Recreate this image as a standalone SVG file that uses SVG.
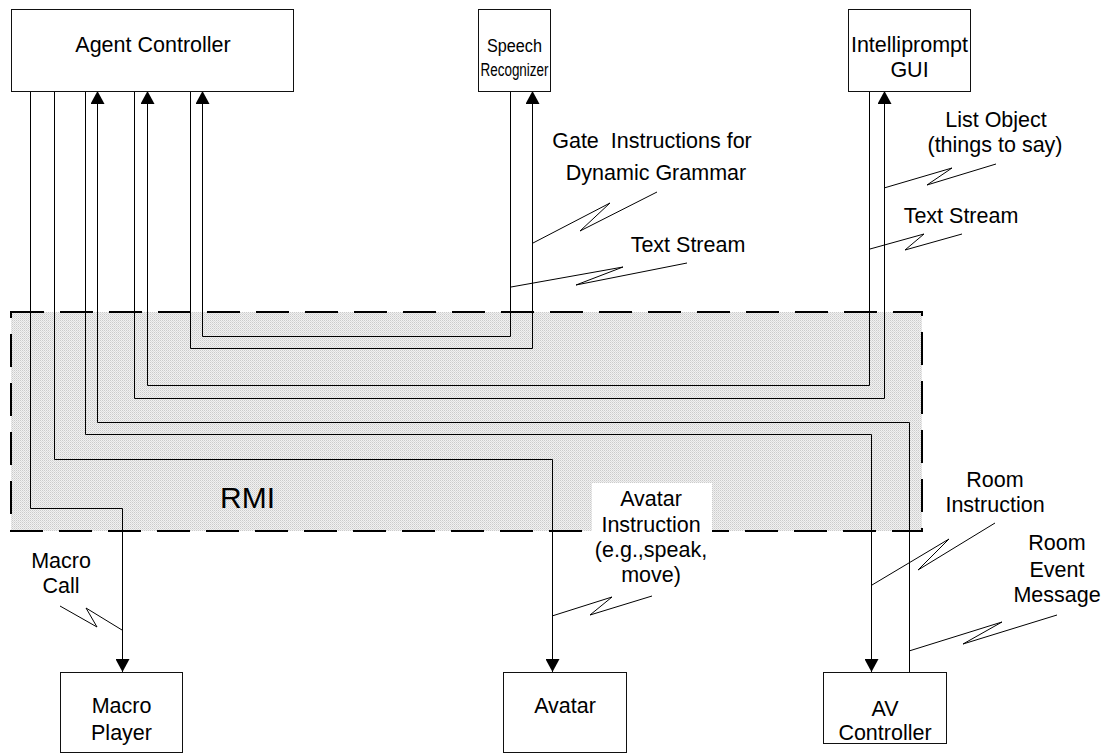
<svg xmlns="http://www.w3.org/2000/svg" width="1106" height="754" viewBox="0 0 1106 754">
<style>
.box{fill:#fff;stroke:#111;stroke-width:1}
.t{font-family:"Liberation Sans",Arial,sans-serif;font-size:21.5px;fill:#000;text-anchor:middle}
.c{fill:none;stroke:#000;stroke-width:1}
.sq{fill:none;stroke:#000;stroke-width:1;stroke-linejoin:round}
</style>
<defs>
<pattern id="dots" width="2" height="2" patternUnits="userSpaceOnUse">
<rect width="2" height="2" fill="#f1f1f1"/>
<rect width="1" height="1" fill="#cbcbcb"/>
<rect x="1" y="1" width="1" height="1" fill="#dcdcdc"/>
</pattern>
<marker id="ah" markerUnits="userSpaceOnUse" markerWidth="14" markerHeight="14" refX="13" refY="7" orient="auto">
<path d="M0,0 L13,7 L0,14 z" fill="#000"/>
</marker>
</defs>
<rect width="1106" height="754" fill="#fff"/>
<g id="rmi">
<rect x="11" y="312" width="911" height="219" fill="url(#dots)" stroke="#000" stroke-width="2" stroke-dasharray="33 16"/>
</g>
<g id="connectors">
<path class="c" d="M30.5,91 V508.5 H122.5 V672" marker-end="url(#ah)"/>
<path class="c" d="M54.5,91 V459.5 H552.5 V672" marker-end="url(#ah)"/>
<path class="c" d="M85.5,91 V434.5 H871.5 V672" marker-end="url(#ah)"/>
<path class="c" d="M909.5,672 V422.5 H97.5 V91" marker-end="url(#ah)"/>
<path class="c" d="M134.5,91 V398.5 H884.5 V91" marker-end="url(#ah)"/>
<path class="c" d="M869.5,91 V385.5 H147.5 V91" marker-end="url(#ah)"/>
<path class="c" d="M190.5,91 V348.5 H532.5 V91" marker-end="url(#ah)"/>
<path class="c" d="M510.5,91 V336.5 H202.5 V91" marker-end="url(#ah)"/>
<path class="sq" d="M533,243 L610,203 L580,231 L657,192"/>
<path class="sq" d="M511,287 L623,267 L576,285 L687,263"/>
<path class="sq" d="M884,188 L952,168 L927,185 L996,164"/>
<path class="sq" d="M870,249 L924,234 L905,250 L962,234"/>
<path class="sq" d="M872,585 L949,539 L918,570 L995,523"/>
<path class="sq" d="M909,651 L1002,622 L963,644 L1057,615"/>
<path class="sq" d="M552,616 L612,597 L590,615 L652,596"/>
<path class="sq" d="M122,630 L86,608 L97,627 L60,606"/>
</g>
<g id="agent-controller">
<rect class="box" x="11.5" y="9.5" width="282" height="82"/>
<text class="t" x="153" y="52">Agent Controller</text>
</g>
<g id="speech-recognizer">
<rect class="box" x="478.5" y="9.5" width="72" height="82"/>
<text class="t" x="514.5" y="52" style="font-size:18px" textLength="55" lengthAdjust="spacingAndGlyphs">Speech</text>
<text class="t" x="514.5" y="76" style="font-size:18px" textLength="68" lengthAdjust="spacingAndGlyphs">Recognizer</text>
</g>
<g id="intelliprompt-gui">
<rect class="box" x="848.5" y="9.5" width="122" height="82"/>
<text class="t" x="909.5" y="52">Intelliprompt</text>
<text class="t" x="909.5" y="77">GUI</text>
</g>
<g id="macro-player">
<rect class="box" x="60.5" y="672.5" width="122" height="80"/>
<text class="t" x="121.5" y="713">Macro</text>
<text class="t" x="121.5" y="740">Player</text>
</g>
<g id="avatar">
<rect class="box" x="503.5" y="672.5" width="123" height="80"/>
<text class="t" x="565" y="713">Avatar</text>
</g>
<g id="av-controller">
<rect class="box" x="823.5" y="672.5" width="123" height="71"/>
<text class="t" x="885" y="716">AV</text>
<text class="t" x="885" y="740">Controller</text>
</g>
<g id="labels">
<text class="t" x="220" y="508" style="text-anchor:start;font-size:30px">RMI</text>
<text class="t" x="652" y="148" style="white-space:pre">Gate  Instructions for</text>
<text class="t" x="656" y="180">Dynamic Grammar</text>
<text class="t" x="688" y="252">Text Stream</text>
<text class="t" x="996" y="127">List Object</text>
<text class="t" x="995" y="152">(things to say)</text>
<text class="t" x="961" y="223">Text Stream</text>
<text class="t" x="995" y="487">Room</text>
<text class="t" x="995" y="512">Instruction</text>
<text class="t" x="1057" y="550">Room</text>
<text class="t" x="1057" y="577">Event</text>
<text class="t" x="1057" y="602">Message</text>
<rect x="592" y="483" width="120" height="52" fill="#fff"/>
<text class="t" x="651" y="506">Avatar</text>
<text class="t" x="651" y="532">Instruction</text>
<text class="t" x="651" y="557">(e.g.,speak,</text>
<text class="t" x="651" y="582">move)</text>
<text class="t" x="61" y="568">Macro</text>
<text class="t" x="61" y="593">Call</text>
</g>
</svg>
